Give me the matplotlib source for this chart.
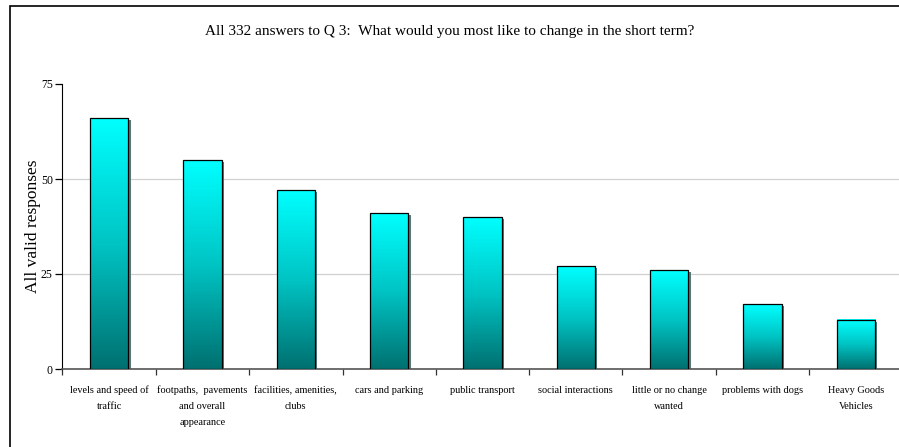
import numpy as np
import matplotlib
matplotlib.use("Agg")
import matplotlib.pyplot as plt
from matplotlib.colors import LinearSegmentedColormap
from matplotlib.patches import Rectangle

# ── Data ─────────────────────────────────────────────────────────────────────
CATEGORIES = [
    'levels and speed of\ntraffic',
    'footpaths,  pavements\nand overall\nappearance',
    'facilities, amenities,\nclubs',
    'cars and parking',
    'public transport',
    'social interactions',
    'little or no change\nwanted',
    'problems with dogs',
    'Heavy Goods\nVehicles',
]
RESPONSES = [66, 55, 47, 41, 40, 27, 26, 17, 13]
Y_TICKS = [0, 25, 50, 75]

TITLE = 'All 332 answers to Q 3:  What would you most like to change in the short term?'
YLABEL = 'All valid responses'

plt.rcParams['font.family'] = ['Liberation Serif', 'DejaVu Serif']

W, H = 899, 447
fig = plt.figure(figsize=(W / 100, H / 100), dpi=100, facecolor='white')

# outer frame (runs off the right/bottom edge like the source)
fig.patches.append(Rectangle((10 / W, -0.05), 1.2, 1 - 6 / H + 0.05,
                             transform=fig.transFigure, fill=False,
                             edgecolor='black', lw=1.2, zorder=0))

ax = fig.add_axes([62.5 / W, 78 / H, 840 / W, 285 / H])
ax.set_facecolor('none')

cmap = LinearSegmentedColormap.from_list('teal', ['#007070', '#00c4c4', '#00ffff'])
grad = np.linspace(0, 1, 256).reshape(-1, 1)

x = np.arange(len(CATEGORIES))
bw = 0.41
for xi, v in zip(x, RESPONSES):
    # shadow
    ax.add_patch(Rectangle((xi - bw / 2 + 0.025, 0), bw, v - 0.5,
                           facecolor='#5a7a7a', edgecolor='none', zorder=2))
    ax.imshow(grad, cmap=cmap, origin='lower', aspect='auto',
              extent=(xi - bw / 2, xi + bw / 2, 0, v), zorder=3)
    ax.add_patch(Rectangle((xi - bw / 2, 0), bw, v, fill=False,
                           edgecolor='black', lw=0.9, zorder=4))

ax.set_xlim(-0.5, len(CATEGORIES) - 0.5)
ax.set_ylim(0, 75)

ax.set_yticks(Y_TICKS)
ax.set_yticklabels([str(t) for t in Y_TICKS], fontsize=8.5)
ax.yaxis.grid(True, color='#d0d0d0', lw=0.9, zorder=1)
ax.get_ygridlines()[-1].set_visible(False)
ax.set_axisbelow(True)

ax.set_xticks(x)
ax.set_xticklabels(CATEGORIES, fontsize=7.4, linespacing=2.0, va='top')
ax.tick_params(axis='x', length=0, pad=12)
ax.set_xticks(np.arange(len(CATEGORIES) + 1) - 0.5, minor=True)
ax.tick_params(axis='x', which='minor', length=4, width=0.9, color='#333333', direction='out')
ax.tick_params(axis='y', length=5, width=0.9, direction='out', pad=2)

for s in ('top', 'right'):
    ax.spines[s].set_visible(False)
ax.spines['left'].set_color('black')
ax.spines['bottom'].set_color('#555555')
ax.spines['bottom'].set_linewidth(1.2)

ax.set_ylabel(YLABEL, fontsize=12.5, labelpad=0)

fig.text(450 / W, 1 - 31 / H, TITLE, ha='center', va='center', fontsize=11)

fig.savefig('out.png', dpi=100, facecolor='white')
